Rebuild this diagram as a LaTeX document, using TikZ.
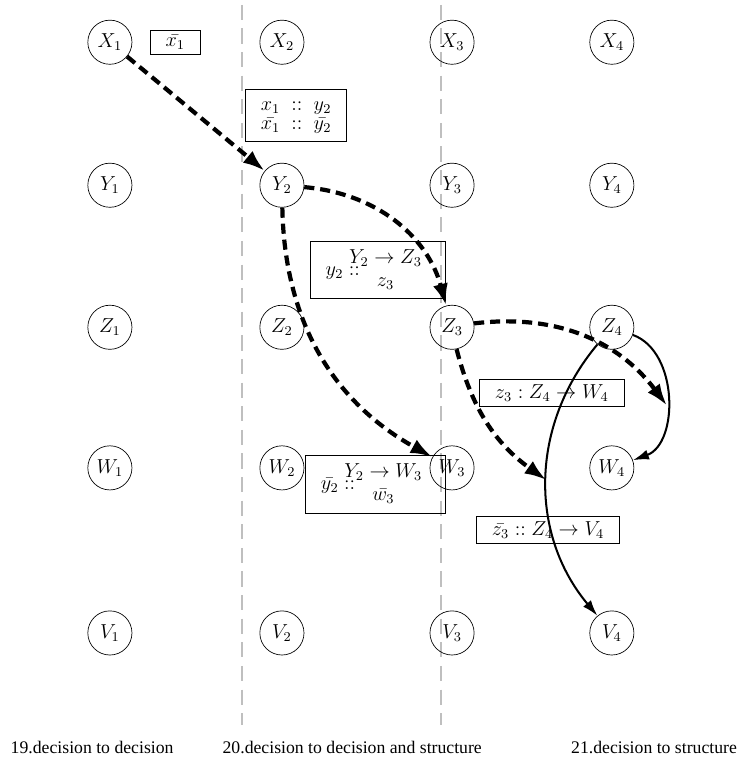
\documentclass[tikz,border=0pt,11pt]{standalone}
\usepackage{fontspec}
\setmainfont{Liberation Serif}
\usepackage{tikz}
\usetikzlibrary{arrows.meta}

\begin{document}
\begin{tikzpicture}

	\tikzstyle{state} = [circle, draw=black, minimum size=0.92cm, inner sep=0pt, font=\large]
	\tikzstyle{label_box} = [rectangle, draw=black, inner xsep=9pt, inner ysep=3pt, font=\large]
	\tikzstyle{decision_edge} = [-{Latex[length=13pt, width=9pt]}, line width=2.5pt, dash pattern=on 6pt off 3.5pt]
	\tikzstyle{structure_edge} = [-{Latex[length=9.5pt, width=6pt]}, line width=1.2pt]
	\tikzstyle{separator} = [gray!50, line width=1.2pt, dash pattern=on 9pt off 5pt]
	\tikzstyle{caption} = [font=\fontsize{10.5}{12}\selectfont]

	\useasboundingbox (0,0) rectangle (15.4,15.9);

%------------------------------------------------------------
	\draw[separator] (5.04,15.8) -- (5.04,0.79);
	\draw[separator] (9.19,15.8) -- (9.19,0.79);
%------------------------------------------------------------
	\node[state] (x1) at (2.29,15.02) {$X_1$};
	\node[state] (y1) at (2.29,12.04) {$Y_1$};
	\node[state] (z1) at (2.29,9.08) {$Z_1$};
	\node[state] (w1) at (2.29,6.15) {$W_1$};
	\node[state] (v1) at (2.29,2.71) {$V_1$};
%------------------------------------------------------------
	\node[state] (x2) at (5.875,15.02) {$X_2$};
	\node[state] (y2) at (5.875,12.04) {$Y_2$};
	\node[state] (z2) at (5.875,9.08) {$Z_2$};
	\node[state] (w2) at (5.875,6.15) {$W_2$};
	\node[state] (v2) at (5.875,2.71) {$V_2$};
%------------------------------------------------------------
	\node[state] (x3) at (9.42,15.02) {$X_3$};
	\node[state] (y3) at (9.42,12.04) {$Y_3$};
	\node[state] (z3) at (9.42,9.08) {$Z_3$};
	\node[state] (w3) at (9.42,6.15) {$W_3$};
	\node[state] (v3) at (9.42,2.71) {$V_3$};
%------------------------------------------------------------
	\node[state] (x4) at (12.75,15.02) {$X_4$};
	\node[state] (y4) at (12.75,12.04) {$Y_4$};
	\node[state] (z4) at (12.75,9.08) {$Z_4$};
	\node[state] (w4) at (12.75,6.15) {$W_4$};
	\node[state] (v4) at (12.75,2.71) {$V_4$};

	\path[structure_edge] (z4) edge[bend left=70, looseness=1.0] node[coordinate, pos=0.55] (zw_mid) {} (w4);
	\path[structure_edge] (z4) edge[bend right=40] node[coordinate, midway] (zv_mid) {} (v4);
%------------------------------------------------------------
	\path[decision_edge] (x1) edge (y2);
	\path[decision_edge] (y2) edge[bend left=35] (z3);
	\path[decision_edge] (y2) edge[bend right=30] (w3);
	\path[decision_edge] (z3) edge[bend left=30] (zw_mid);
	\path[decision_edge] (z3) edge[bend right=20] (zv_mid);
%------------------------------------------------------------
	\node[label_box] (lx1) at (3.65,15.02) {$\bar{x_1}$};
	\node[label_box] (lx1y2) at (6.17,13.5) {$\begin{array}{@{}l@{}} x_1 \;::\; y_2\\[-3pt] \bar{x_1} \;::\; \bar{y_2}\end{array}$};
	\node[label_box] (ly2z3) at (7.875,10.27) {$y_2 \mathrel{::}\mkern-22mu\begin{array}{c} Y_2 \to Z_3\\ z_3\end{array}$};
	\node[label_box] (ly2w3) at (7.83,5.81) {$\bar{y_2} \mathrel{::}\mkern-22mu\begin{array}{c} Y_2 \to W_3\\ \bar{w_3}\end{array}$};
	\node[label_box] (lz3w4) at (11.5,7.71) {$z_3 : Z_4 \to W_4$};
	\node[label_box] (lz3v4) at (11.42,4.85) {$\bar{z_3} :: Z_4 \to V_4$};
%------------------------------------------------------------
	\node[caption] (cap19) at (1.92,0.33) {19.decision to decision};
	\node[caption] (cap20) at (7.34,0.33) {20.decision to decision and structure};
	\node[caption] (cap21) at (13.63,0.33) {21.decision to structure};

\end{tikzpicture}
\end{document}
